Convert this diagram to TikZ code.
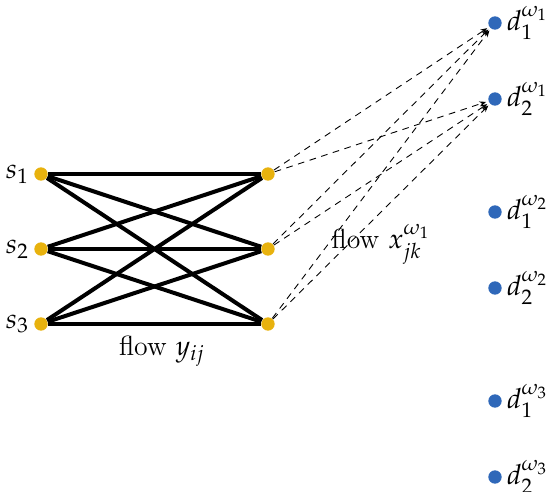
\documentclass[tikz,border=0pt]{standalone}
\usepackage{mathpazo}
\usetikzlibrary{arrows.meta}
\begin{document}
\begin{tikzpicture}[x=0.45pt,y=-0.45pt,font=\fontsize{12.5}{15}\selectfont,
  sdot/.style={circle,fill={rgb,255:red,232;green,178;blue,14},inner sep=0pt,minimum size=6pt},
  ddot/.style={circle,fill={rgb,255:red,47;green,104;blue,185},inner sep=0pt,minimum size=6pt},
  dlabel/.style={right=2pt,inner sep=0pt},
  heavy/.style={line width=1.8pt},
  flowx/.style={dashed,line width=0.4pt,dash pattern=on 3pt off 2.5pt,-{Stealth[length=3pt,width=2.4pt]},shorten >=1pt}]
\useasboundingbox (0,0) rectangle (549,492);
\node[sdot] (s1) at (41,174) {};
\node[sdot] (s2) at (41,249) {};
\node[sdot] (s3) at (41,324) {};
\node[sdot] (m1) at (268,174) {};
\node[sdot] (m2) at (268,249) {};
\node[sdot] (m3) at (268,324) {};
\node[left=2pt,inner sep=0pt] (ls1) at (s1.west) {$s_1$};
\node[left=2pt,inner sep=0pt] (ls2) at (s2.west) {$s_2$};
\node[left=2pt,inner sep=0pt] (ls3) at (s3.west) {$s_3$};
\node[ddot] (d11) at (495,23) {};
\node[ddot] (d21) at (495,99) {};
\node[ddot] (d12) at (495,212) {};
\node[ddot] (d22) at (495,288) {};
\node[ddot] (d13) at (495,401) {};
\node[ddot] (d23) at (495,477) {};
\node[dlabel] (l11) at (d11.east) {$d_1^{\omega_1}$};
\node[dlabel] (l21) at (d21.east) {$d_2^{\omega_1}$};
\node[dlabel] (l12) at (d12.east) {$d_1^{\omega_2}$};
\node[dlabel] (l22) at (d22.east) {$d_2^{\omega_2}$};
\node[dlabel] (l13) at (d13.east) {$d_1^{\omega_3}$};
\node[dlabel] (l23) at (d23.east) {$d_2^{\omega_3}$};
\foreach \a in {s1,s2,s3}{
  \foreach \b in {m1,m2,m3}{
    \draw[heavy] (\a) -- (\b);
  }
}
\foreach \a in {m1,m2,m3}{
  \foreach \b in {d11,d21}{
    \draw[flowx] (\a) -- (\b);
  }
}
\node (fy) at (162,351) {flow $y_{ij}$};
\node (fx) at (381,244) {flow $x_{jk}^{\omega_1}$};
\end{tikzpicture}
\end{document}
